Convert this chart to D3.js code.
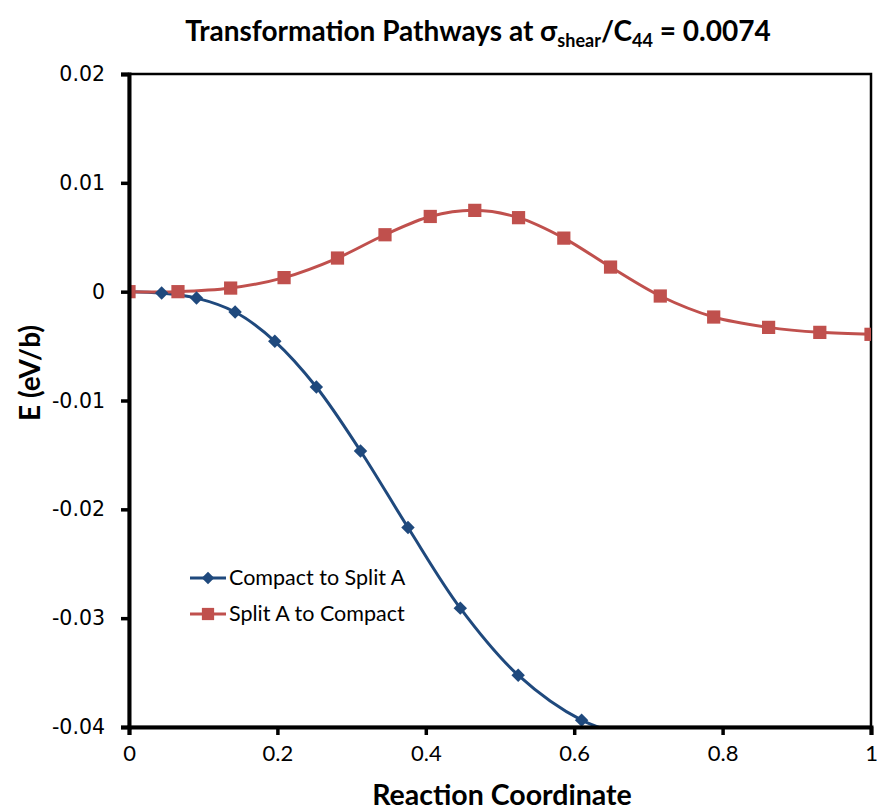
<!DOCTYPE html>
<html>
<head>
<meta charset="utf-8">
<script src="https://cdn.jsdelivr.net/npm/d3@7"></script>
<style>
  html, body { margin: 0; padding: 0; background: #fff; }
  svg { display: block; }
</style>
</head>
<body>
<svg id="chart" width="877" height="812"></svg>
<script>
// Reaction coordinate / energy pairs for each pathway
const compactToSplitX = [0, 0.044, 0.091, 0.143, 0.1965, 0.2525, 0.312, 0.376, 0.4465, 0.5245, 0.610, 0.700];
const compactToSplitY = [0, -0.00013, -0.00059, -0.00187, -0.00456, -0.00876, -0.01464, -0.02167, -0.02908, -0.03524, -0.03937, -0.0414];

const splitToCompactX = [0, 0.066, 0.137, 0.209, 0.281, 0.345, 0.406, 0.466, 0.525, 0.586, 0.649, 0.716, 0.788, 0.862, 0.931, 1.0];
const splitToCompactY = [0, 0.0000, 0.00033, 0.00129, 0.00309, 0.00523, 0.00691, 0.00747, 0.0068, 0.00492, 0.00226, -0.0004, -0.00233, -0.00328, -0.00374, -0.00392];

const xTicks = [0, 0.2, 0.4, 0.6, 0.8, 1];
const xTickLabels = ["0", "0.2", "0.4", "0.6", "0.8", "1"];
const yTicks = [0.02, 0.01, 0, -0.01, -0.02, -0.03, -0.04];
const yTickLabels = ["0.02", "0.01", "0", "-0.01", "-0.02", "-0.03", "-0.04"];

const seriesNames = ["Compact to Split A", "Split A to Compact"];
const seriesColors = ["#1F497D", "#C0504D"];

const svg = d3.select("#chart");
const plotLeft = 129, plotRight = 871, plotTop = 74, plotBottom = 727;
const sansFont = "Lato, 'Open Sans', sans-serif";

const x = d3.scaleLinear().domain([0, 1]).range([plotLeft, plotRight]);
const y = d3.scaleLinear().domain([-0.04, 0.02]).range([plotBottom, plotTop]);

// Plot-area clip so curves stop at the frame
svg.append("defs").append("clipPath").attr("id", "plotClip")
  .append("rect").attr("x", plotLeft).attr("y", plotTop)
  .attr("width", plotRight - plotLeft).attr("height", plotBottom - plotTop);

// Plot-area frame
svg.append("rect")
  .attr("x", plotLeft).attr("y", plotTop)
  .attr("width", plotRight - plotLeft).attr("height", plotBottom - plotTop)
  .attr("fill", "none").attr("stroke", "#000").attr("stroke-width", 2.5);

const series = [
  { name: seriesNames[0], color: seriesColors[0], xs: compactToSplitX, ys: compactToSplitY, marker: d3.symbolDiamond2 },
  { name: seriesNames[1], color: seriesColors[1], xs: splitToCompactX, ys: splitToCompactY, marker: d3.symbolSquare }
];

const line = d3.line()
  .x(d => x(d[0])).y(d => y(d[1]))
  .curve(d3.curveCatmullRom.alpha(0.5));

const plot = svg.append("g").attr("clip-path", "url(#plotClip)");

series.forEach(s => {
  const pts = s.xs.map((v, i) => [v, s.ys[i]]);
  plot.append("path")
    .datum(pts)
    .attr("d", line)
    .attr("fill", "none")
    .attr("stroke", s.color)
    .attr("stroke-width", 3);
});

series.forEach(s => {
  const pts = s.xs.map((v, i) => [v, s.ys[i]]);
  const size = s.marker === d3.symbolSquare ? 175 : 115;
  plot.selectAll(null)
    .data(pts)
    .join("path")
    .attr("transform", d => `translate(${x(d[0])},${y(d[1])})`)
    .attr("d", d3.symbol().type(s.marker).size(size))
    .attr("fill", s.color);
});

// Axes
const yAxis = d3.axisLeft(y).tickValues(yTicks).tickFormat((d, i) => yTickLabels[i]).tickSize(8).tickPadding(16);
const xAxis = d3.axisBottom(x).tickValues(xTicks).tickFormat((d, i) => xTickLabels[i]).tickSize(8).tickPadding(10);

const gy = svg.append("g").attr("transform", `translate(${plotLeft},0)`).call(yAxis);
gy.select(".domain").attr("stroke", "#000").attr("stroke-width", 4);
gy.selectAll(".tick line").attr("stroke", "#000").attr("stroke-width", 3.5);
gy.selectAll(".tick text")
  .attr("font-family", "'DejaVu Sans', Verdana, sans-serif")
  .attr("font-size", 20.5).attr("fill", "#000");

const gx = svg.append("g").attr("transform", `translate(0,${plotBottom})`).call(xAxis);
gx.select(".domain").attr("stroke", "#000").attr("stroke-width", 4);
gx.selectAll(".tick line").attr("stroke", "#000").attr("stroke-width", 3.5);
gx.selectAll(".tick text")
  .attr("font-family", sansFont)
  .attr("font-size", 22).attr("fill", "#000");

// Title with subscripts
const title = svg.append("text")
  .attr("x", 478).attr("y", 41)
  .attr("text-anchor", "middle")
  .attr("font-family", sansFont)
  .attr("font-weight", "bold").attr("font-size", 28).attr("fill", "#000");
title.append("tspan").text("Transformation Pathways at \u03C3");
title.append("tspan").text("shear").attr("font-size", 18).attr("dy", 6);
title.append("tspan").text("/C").attr("dy", -6);
title.append("tspan").text("44").attr("font-size", 18).attr("dy", 6);
title.append("tspan").text(" = 0.0074").attr("dy", -6);

// Axis titles
svg.append("text")
  .attr("x", 502).attr("y", 805)
  .attr("text-anchor", "middle")
  .attr("font-family", sansFont)
  .attr("font-weight", "bold").attr("font-size", 28.5).attr("fill", "#000")
  .text("Reaction Coordinate");

svg.append("text")
  .attr("transform", "translate(40,373) rotate(-90)")
  .attr("text-anchor", "middle")
  .attr("font-family", sansFont)
  .attr("font-weight", "bold").attr("font-size", 28).attr("fill", "#000")
  .text("E (eV/b)");

// Legend
const legend = svg.append("g");
series.forEach((s, i) => {
  const ly = 578 + i * 36;
  legend.append("line")
    .attr("x1", 190).attr("x2", 226).attr("y1", ly).attr("y2", ly)
    .attr("stroke", s.color).attr("stroke-width", 3);
  legend.append("path")
    .attr("transform", `translate(208,${ly})`)
    .attr("d", d3.symbol().type(s.marker).size(s.marker === d3.symbolSquare ? 150 : 100))
    .attr("fill", s.color);
  legend.append("text")
    .attr("x", 229).attr("y", ly + 7)
    .attr("font-family", sansFont)
    .attr("font-size", 21.5).attr("fill", "#000")
    .text(s.name);
});
</script>
</body>
</html>
